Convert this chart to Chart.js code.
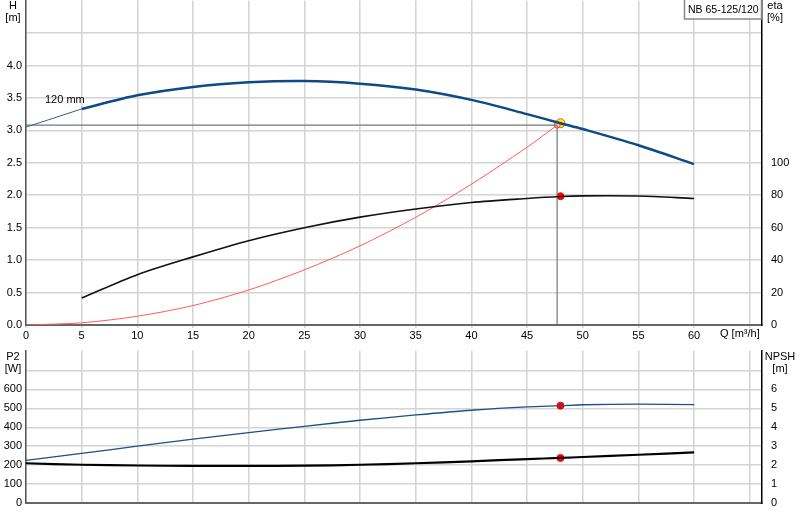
<!DOCTYPE html>
<html><head><meta charset="utf-8">
<script src="https://cdn.jsdelivr.net/npm/chart.js@4"></script>
<style>
body{margin:0;background:#fff;width:800px;height:520px;overflow:hidden;position:relative}
#c1{position:absolute;left:0;top:-10px}
#c2{position:absolute;left:0;top:340px}
</style></head><body>
<canvas id="c1" width="800" height="350"></canvas>
<canvas id="c2" width="800" height="180"></canvas>
<script>
const qPts=[5,10,15,20,25,30,35,40,45,48,50,55,60];
const headVals=[3.33,3.54,3.67,3.74,3.76,3.72,3.63,3.47,3.25,3.11,3.02,2.77,2.48];
const headStartQ=[0,5];
const headStartVals=[3.05,3.33];
const etaVals=[16.6,31,42,52,60,66.5,71.5,75.5,78,79.2,79.6,79.5,78];
const sysQ=[0,5,10,15,20,25,30,35,40,45,47.7];
const sysVals=[0,0.034,0.135,0.30,0.54,0.85,1.22,1.66,2.17,2.74,3.08];
const dutyQ=47.7, dutyH=3.08;
const opQ=48, opH=3.11, opEta=79.4, opP2=514, opNpsh=2.38;
const q2=[0,5,10,15,20,25,30,35,40,45,48,50,55,60];
const p2Vals=[225,262,300,337,372,405,437,465,490,508,514,519,522,520];
const npshVals=[2.1,2.02,1.98,1.96,1.96,1.97,2.02,2.1,2.2,2.32,2.38,2.43,2.55,2.67];
const xTicks=[0,5,10,15,20,25,30,35,40,45,50,55,60,65];
const hTicks=[0,0.5,1,1.5,2,2.5,3,3.5,4,4.5];
const etaTicks=[0,20,40,60,80,100];
const p2Ticks=[0,100,200,300,400,500,600,700];
const npshTicks=[0,1,2,3,4,5,6,7];
const FONT='"Liberation Sans", Arial, sans-serif';
Chart.defaults.font.family=FONT;Chart.defaults.font.size=11;Chart.defaults.color='#000';
Chart.defaults.animation=false;
const pts=(xs,ys)=>xs.map((x,i)=>({x,y:ys[i]}));
const grid={color:'#d4d4d4',lineWidth:1.5,drawTicks:false};
const fitW=w=>s=>{s.width=w;};
const fitH=h=>s=>{s.height=h;};
const setT=arr=>s=>{s.ticks=arr.map(v=>({value:v}));};
const textPlugin=(items)=>({id:'txt'+Math.floor(Math.random()*1e6),afterDraw(c){const x=c.ctx;x.save();x.font='11px '+FONT;x.fillStyle='#000';items(c,x);x.restore();}});
const base=(extra)=>({responsive:false,maintainAspectRatio:false,plugins:{legend:{display:false},tooltip:{enabled:false}},elements:{point:{radius:0}},...extra});

new Chart(document.getElementById('c1'),{type:'line',data:{datasets:[
 {data:pts(headStartQ,headStartVals),borderColor:'#3a5f8a',borderWidth:1,yAxisID:'y'},
 {data:pts(qPts,headVals),borderColor:'#0d4a86',borderWidth:2.5,tension:0.3,yAxisID:'y'},
 {data:pts(qPts,etaVals),borderColor:'#111',borderWidth:1.6,tension:0.3,yAxisID:'y2'},
 {data:pts(sysQ,sysVals),borderColor:'#ff5a5a',borderWidth:1,tension:0.3,yAxisID:'y'},
 {data:[{x:0,y:dutyH},{x:dutyQ,y:dutyH}],borderColor:'#777',borderWidth:1.2,yAxisID:'y'},
 {data:[{x:dutyQ,y:0},{x:dutyQ,y:dutyH}],borderColor:'#777',borderWidth:1.2,yAxisID:'y'},
 {data:[{x:dutyQ,y:dutyH}],pointRadius:3,pointBackgroundColor:'rgba(255,200,200,0.6)',pointBorderColor:'#f44',showLine:false,yAxisID:'y'},
 {data:[{x:opQ,y:opH}],pointRadius:4.5,pointBackgroundColor:'#ffee00',pointBorderColor:'#e05050',showLine:false,yAxisID:'y'},
 {data:[{x:opQ,y:opEta}],pointRadius:3.5,pointBackgroundColor:'#f00',pointBorderColor:'#f00',showLine:false,yAxisID:'y2'}
]},options:base({scales:{
 x:{type:'linear',min:0,max:66.1,afterFit:fitH(15),afterBuildTicks:setT(xTicks),grid:{...grid,drawTicks:true,tickLength:3},border:{color:'#666',width:2},
   ticks:{padding:1,maxRotation:0,autoSkip:false,callback:v=>v<=60?String(v):''}},
 y:{min:0,max:5,position:'left',afterFit:fitW(26),afterBuildTicks:setT(hTicks),grid:grid,border:{color:'#555',width:1.5},
   ticks:{padding:4,autoSkip:false,callback:v=>v<=4.01?v.toFixed(1):''}},
 y2:{min:0,max:200,position:'right',afterFit:fitW(38),afterBuildTicks:setT(etaTicks),grid:{display:false,drawTicks:true,tickLength:5},border:{color:'#000',width:1.5},
   ticks:{padding:4,autoSkip:false,callback:v=>String(v)}}
}}),plugins:[textPlugin((c,x)=>{
 x.textAlign='center';x.fillText('H',13,19);x.fillText('[m]',13,31);
 x.fillText('eta',775,19);x.fillText('[%]',775,31);
 x.textAlign='left';x.fillText('120 mm',45,113);x.fillText('Q [m³/h]',720,347);
 x.fillStyle='#fff';x.fillRect(684,10,78,19);x.strokeStyle='#888';x.lineWidth=1.5;x.strokeRect(684.5,9,77,20);
 x.fillStyle='#000';x.font='10.5px '+FONT;x.fillText('NB 65-125/120',688,23);
})]});

new Chart(document.getElementById('c2'),{type:'line',data:{datasets:[
 {data:pts(q2,p2Vals),borderColor:'#1a4f88',borderWidth:1.3,tension:0.3,yAxisID:'y'},
 {data:pts(q2,npshVals),borderColor:'#000',borderWidth:2.2,tension:0.3,yAxisID:'y2'},
 {data:[{x:opQ,y:opP2}],pointRadius:3.5,pointBackgroundColor:'#f00',pointBorderColor:'#f00',showLine:false,yAxisID:'y'},
 {data:[{x:opQ,y:opNpsh}],pointRadius:3.5,pointBackgroundColor:'#f00',pointBorderColor:'#f00',showLine:false,yAxisID:'y2'}
]},options:base({layout:{padding:{top:4}},scales:{
 x:{type:'linear',min:0,max:66.1,afterFit:fitH(17),afterBuildTicks:setT(xTicks),grid:grid,border:{color:'#666',width:2},ticks:{autoSkip:false,callback:()=>''}},
 y:{min:0,max:805,position:'left',afterFit:fitW(26),afterBuildTicks:setT(p2Ticks),grid:grid,border:{color:'#555',width:1.5},
   ticks:{padding:4,autoSkip:false,callback:v=>v<=600?String(v):''}},
 y2:{min:0,max:8.05,position:'right',afterFit:fitW(38),afterBuildTicks:setT(npshTicks),grid:{display:false,drawTicks:true,tickLength:5},border:{color:'#000',width:1.5},
   ticks:{padding:4,autoSkip:false,callback:v=>v<=6?String(v):''}}
}}),plugins:[textPlugin((c,x)=>{
 x.textAlign='center';x.fillText('P2',13,20);x.fillText('[W]',13,32);
 x.fillText('NPSH',780,20);x.fillText('[m]',780,32);
})]});
</script></body></html>
